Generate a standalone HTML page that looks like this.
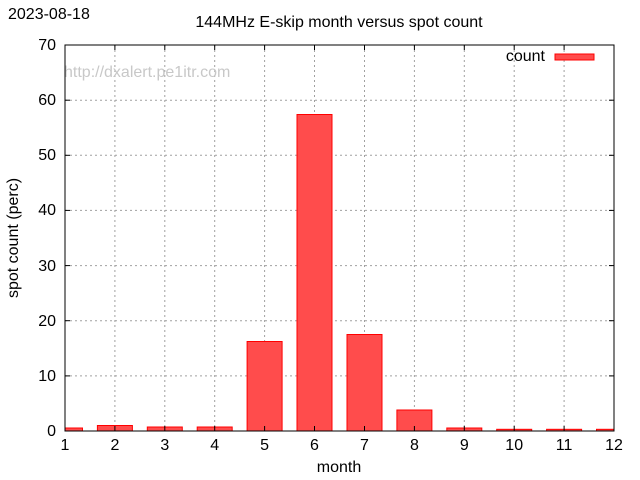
<!DOCTYPE html>
<html><head><meta charset="utf-8"><style>
html,body{margin:0;padding:0;background:#fff;}
svg{display:block;font-family:"Liberation Sans",sans-serif;}
</style></head><body>
<svg width="640" height="480" viewBox="0 0 640 480" xmlns="http://www.w3.org/2000/svg">
<rect width="640" height="480" fill="#fff"/>
<defs><clipPath id="c"><rect x="65" y="45" width="549" height="386"/></clipPath></defs>
<g stroke="#a0a0a0" stroke-width="1" stroke-dasharray="2,3">
<line x1="65" x2="614" y1="375.9" y2="375.9"/>
<line x1="65" x2="614" y1="320.7" y2="320.7"/>
<line x1="65" x2="614" y1="265.6" y2="265.6"/>
<line x1="65" x2="614" y1="210.4" y2="210.4"/>
<line x1="65" x2="614" y1="155.3" y2="155.3"/>
<line x1="65" x2="614" y1="100.2" y2="100.2"/>
<line y1="45" y2="431" x1="114.9" x2="114.9"/>
<line y1="45" y2="431" x1="164.8" x2="164.8"/>
<line y1="45" y2="431" x1="214.7" x2="214.7"/>
<line y1="45" y2="431" x1="264.6" x2="264.6"/>
<line y1="45" y2="431" x1="314.5" x2="314.5"/>
<line y1="45" y2="431" x1="364.5" x2="364.5"/>
<line y1="45" y2="431" x1="414.4" x2="414.4"/>
<line y1="45" y2="431" x1="464.3" x2="464.3"/>
<line y1="45" y2="431" x1="514.2" x2="514.2"/>
<line y1="45" y2="431" x1="564.1" x2="564.1"/>
</g>
<text x="64" y="77" font-size="16" fill="#c8c8c8">http://dxalert.pe1itr.com</text>
<g clip-path="url(#c)" fill="#ff4c4c" stroke="#f00" stroke-width="1">
<rect x="47.5" y="428" width="35" height="3"/>
<rect x="97.4" y="425.5" width="35" height="5.5"/>
<rect x="147.3" y="427" width="35" height="4"/>
<rect x="197.2" y="427" width="35" height="4"/>
<rect x="247.1" y="341.5" width="35" height="89.5"/>
<rect x="297" y="114.5" width="35" height="316.5"/>
<rect x="347" y="334.5" width="35" height="96.5"/>
<rect x="396.9" y="410" width="35" height="21"/>
<rect x="446.8" y="428" width="35" height="3"/>
<rect x="496.7" y="429.3" width="35" height="1.7"/>
<rect x="546.6" y="429.3" width="35" height="1.7"/>
<rect x="596.5" y="429.3" width="35" height="1.7"/>
</g>
<rect x="65" y="45" width="549" height="386" fill="none" stroke="#000" stroke-width="1"/>
<g stroke="#000">
<line x1="114.9" x2="114.9" y1="431" y2="426"/><line x1="114.9" x2="114.9" y1="45" y2="50"/>
<line x1="164.8" x2="164.8" y1="431" y2="426"/><line x1="164.8" x2="164.8" y1="45" y2="50"/>
<line x1="214.7" x2="214.7" y1="431" y2="426"/><line x1="214.7" x2="214.7" y1="45" y2="50"/>
<line x1="264.6" x2="264.6" y1="431" y2="426"/><line x1="264.6" x2="264.6" y1="45" y2="50"/>
<line x1="314.5" x2="314.5" y1="431" y2="426"/><line x1="314.5" x2="314.5" y1="45" y2="50"/>
<line x1="364.5" x2="364.5" y1="431" y2="426"/><line x1="364.5" x2="364.5" y1="45" y2="50"/>
<line x1="414.4" x2="414.4" y1="431" y2="426"/><line x1="414.4" x2="414.4" y1="45" y2="50"/>
<line x1="464.3" x2="464.3" y1="431" y2="426"/><line x1="464.3" x2="464.3" y1="45" y2="50"/>
<line x1="514.2" x2="514.2" y1="431" y2="426"/><line x1="514.2" x2="514.2" y1="45" y2="50"/>
<line x1="564.1" x2="564.1" y1="431" y2="426"/><line x1="564.1" x2="564.1" y1="45" y2="50"/>
<line x1="65" x2="70" y1="375.9" y2="375.9"/><line x1="614" x2="609" y1="375.9" y2="375.9"/>
<line x1="65" x2="70" y1="320.7" y2="320.7"/><line x1="614" x2="609" y1="320.7" y2="320.7"/>
<line x1="65" x2="70" y1="265.6" y2="265.6"/><line x1="614" x2="609" y1="265.6" y2="265.6"/>
<line x1="65" x2="70" y1="210.4" y2="210.4"/><line x1="614" x2="609" y1="210.4" y2="210.4"/>
<line x1="65" x2="70" y1="155.3" y2="155.3"/><line x1="614" x2="609" y1="155.3" y2="155.3"/>
<line x1="65" x2="70" y1="100.2" y2="100.2"/><line x1="614" x2="609" y1="100.2" y2="100.2"/>
</g>
<g font-size="16" fill="#000" text-anchor="end">
<text x="56" y="436">0</text>
<text x="56" y="381">10</text>
<text x="56" y="326">20</text>
<text x="56" y="271">30</text>
<text x="56" y="215">40</text>
<text x="56" y="160">50</text>
<text x="56" y="105">60</text>
<text x="56" y="50">70</text>
</g>
<g font-size="16" fill="#000" text-anchor="middle">
<text x="65" y="450">1</text>
<text x="114.9" y="450">2</text>
<text x="164.8" y="450">3</text>
<text x="214.7" y="450">4</text>
<text x="264.6" y="450">5</text>
<text x="314.5" y="450">6</text>
<text x="364.5" y="450">7</text>
<text x="414.4" y="450">8</text>
<text x="464.3" y="450">9</text>
<text x="514.2" y="450">10</text>
<text x="564.1" y="450">11</text>
<text x="614" y="450">12</text>
<text x="339" y="472">month</text>
<text x="339" y="27">144MHz E-skip month versus spot count</text>
</g>
<text x="8" y="19" font-size="16" fill="#000">2023-08-18</text>
<text transform="translate(18,238) rotate(-90)" font-size="16" text-anchor="middle" fill="#000">spot count (perc)</text>
<text x="545" y="61" font-size="16" text-anchor="end" fill="#000">count</text>
<rect x="555" y="54" width="39" height="6" fill="#ff4c4c" stroke="#f00"/>
</svg>
</body></html>
